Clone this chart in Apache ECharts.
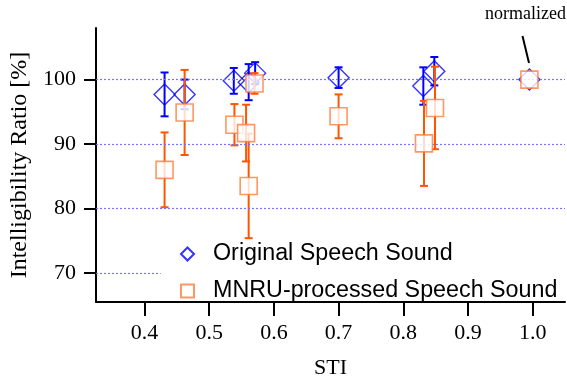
<!DOCTYPE html>
<html>
<head>
<meta charset="utf-8">
<script src="https://cdn.jsdelivr.net/npm/echarts@6/dist/echarts.min.js"></script>
<style>html,body{margin:0;padding:0;background:#fff}#c{width:567px;height:378px}</style>
</head>
<body>
<div id="c"></div>
<script>
// Data
var stiOriginal   = [0.431, 0.462, 0.538, 0.561, 0.571, 0.700, 0.831, 0.848, 0.995];
var ratioOriginal = [97.7, 97.7, 99.8, 99.6, 101.0, 100.3, 99.0, 101.3, 100.0];
var errOriginal   = [3.4, 2.3, 2.0, 2.8, 1.7, 1.6, 2.9, 2.2, 0];

var stiMnru   = [0.431, 0.462, 0.539, 0.557, 0.561, 0.570, 0.700, 0.832, 0.849, 0.995];
var ratioMnru = [86.0, 94.9, 93.0, 91.7, 83.5, 99.4, 94.3, 90.1, 95.6, 100.0];
var errMnru   = [5.8, 6.6, 3.2, 4.4, 8.1, 1.6, 3.4, 6.6, 6.4, 0];

var xTicks = [0.4, 0.5, 0.6, 0.7, 0.8, 0.9, 1.0];
var yTicks = [70, 80, 90, 100];
var gridValues = [80, 90, 100];
var seriesNames = ['Original Speech Sound', 'MNRU-processed Speech Sound'];

function zip3(a, b, c) { return a.map(function (v, i) { return [v, b[i], c[i]]; }); }

function errRender(color, lw) {
  return function (params, api) {
    var x = api.value(0), y = api.value(1), e = api.value(2);
    if (!e) return null;
    var top = api.coord([x, y + e]);
    var bot = api.coord([x, y - e]);
    var hw = 4;
    var st = { stroke: color, lineWidth: lw };
    return {
      type: 'group',
      children: [
        { type: 'line', shape: { x1: top[0], y1: top[1], x2: bot[0], y2: bot[1] }, style: st },
        { type: 'line', shape: { x1: top[0] - hw, y1: top[1], x2: top[0] + hw, y2: top[1] }, style: st },
        { type: 'line', shape: { x1: bot[0] - hw, y1: bot[1], x2: bot[0] + hw, y2: bot[1] }, style: st }
      ]
    };
  };
}

var BLUE = '#0000ff', ORANGE = '#ff5500', ORANGE_SQ = '#ff7d3c', GRID = '#7373ff';
var serif = '"Liberation Serif", "DejaVu Serif", serif';
var sans = '"Liberation Sans", Arial, sans-serif';

var chart = echarts.init(document.getElementById('c'), null, { renderer: 'canvas' });
chart.setOption({
  animation: false,
  backgroundColor: '#fff',
  grid: { left: 96, right: 2, top: 28, bottom: 76, containLabel: false, outerBoundsMode: 'none' },
  xAxis: {
    type: 'value', min: 0.325, max: 1.05,
    name: 'STI', nameLocation: 'middle', nameGap: 55,
    nameTextStyle: { fontFamily: serif, fontSize: 22, color: '#000' },
    axisLine: { show: true, lineStyle: { color: '#000', width: 2 } },
    axisTick: { show: true, inside: false, length: 14, customValues: xTicks, lineStyle: { color: '#000', width: 2 } },
    axisLabel: { customValues: xTicks, margin: 20, fontFamily: serif, fontSize: 22, color: '#000',
      formatter: function (v) { return v.toFixed(1); } },
    splitLine: { show: false }
  },
  yAxis: {
    type: 'value', min: 65.5, max: 108,
    name: 'Intelligibility Ratio [%]', nameLocation: 'middle', nameGap: 62,
    nameTextStyle: { fontFamily: serif, fontSize: 24, color: '#000' },
    axisLine: { show: true, lineStyle: { color: '#000', width: 2 } },
    axisTick: { show: true, inside: false, length: 12, customValues: yTicks, lineStyle: { color: '#000', width: 2 } },
    axisLabel: { customValues: yTicks, margin: 20, fontFamily: serif, fontSize: 22, color: '#000' },
    splitLine: { show: false }
  },
  legend: {
    left: 180, top: 242, orient: 'vertical',
    padding: 0,
    itemWidth: 13, itemHeight: 13, itemGap: 13,
    textStyle: { fontFamily: sans, fontSize: 23.3, color: '#000', lineHeight: 24, padding: [0, 0, 0, 14] },
    data: [
      { name: seriesNames[0], icon: 'diamond' },
      { name: seriesNames[1], icon: 'rect' }
    ]
  },
  series: [
    {
      type: 'line', name: 'grid', z: 1, silent: true, data: [],
      markLine: {
        silent: true, symbol: 'none', animation: false,
        label: { show: false },
        lineStyle: { type: [2, 2], color: GRID, width: 1.2, opacity: 1 },
        emphasis: { disabled: true },
        data: gridValues.map(function (v) { return { yAxis: v }; }).concat([
          [{ coord: [0.325, 70] }, { coord: [0.425, 70] }]
        ])
      }
    },
    {
      type: 'custom', name: 'errOrig', z: 2, silent: true,
      renderItem: errRender(BLUE, 2),
      data: zip3(stiOriginal, ratioOriginal, errOriginal)
    },
    {
      type: 'scatter', name: seriesNames[0], z: 3, silent: true,
      symbol: 'diamond', symbolSize: 21,
      itemStyle: { color: 'rgba(255,255,255,0)', borderColor: BLUE, borderWidth: 1.4 },
      data: stiOriginal.map(function (v, i) { return [v, ratioOriginal[i]]; })
    },
    {
      type: 'custom', name: 'errMnru', z: 4, silent: true,
      renderItem: errRender(ORANGE, 2),
      data: zip3(stiMnru, ratioMnru, errMnru)
    },
    {
      type: 'scatter', name: seriesNames[1], z: 5, silent: true,
      symbol: 'rect', symbolSize: 17,
      itemStyle: { color: '#fff', borderColor: ORANGE_SQ, borderWidth: 1.6 },
      data: stiMnru.map(function (v, i) { return [v, ratioMnru[i]]; })
    }
  ],
  graphic: [
    { type: 'text', left: 485, top: 5, z: 10,
      style: { text: 'normalized', font: '18px ' + serif, fill: '#000' } },
    { type: 'line', z: 10, shape: { x1: 522.5, y1: 36, x2: 529, y2: 63 },
      style: { stroke: '#000', lineWidth: 2 } }
  ]
});
</script>
</body>
</html>
